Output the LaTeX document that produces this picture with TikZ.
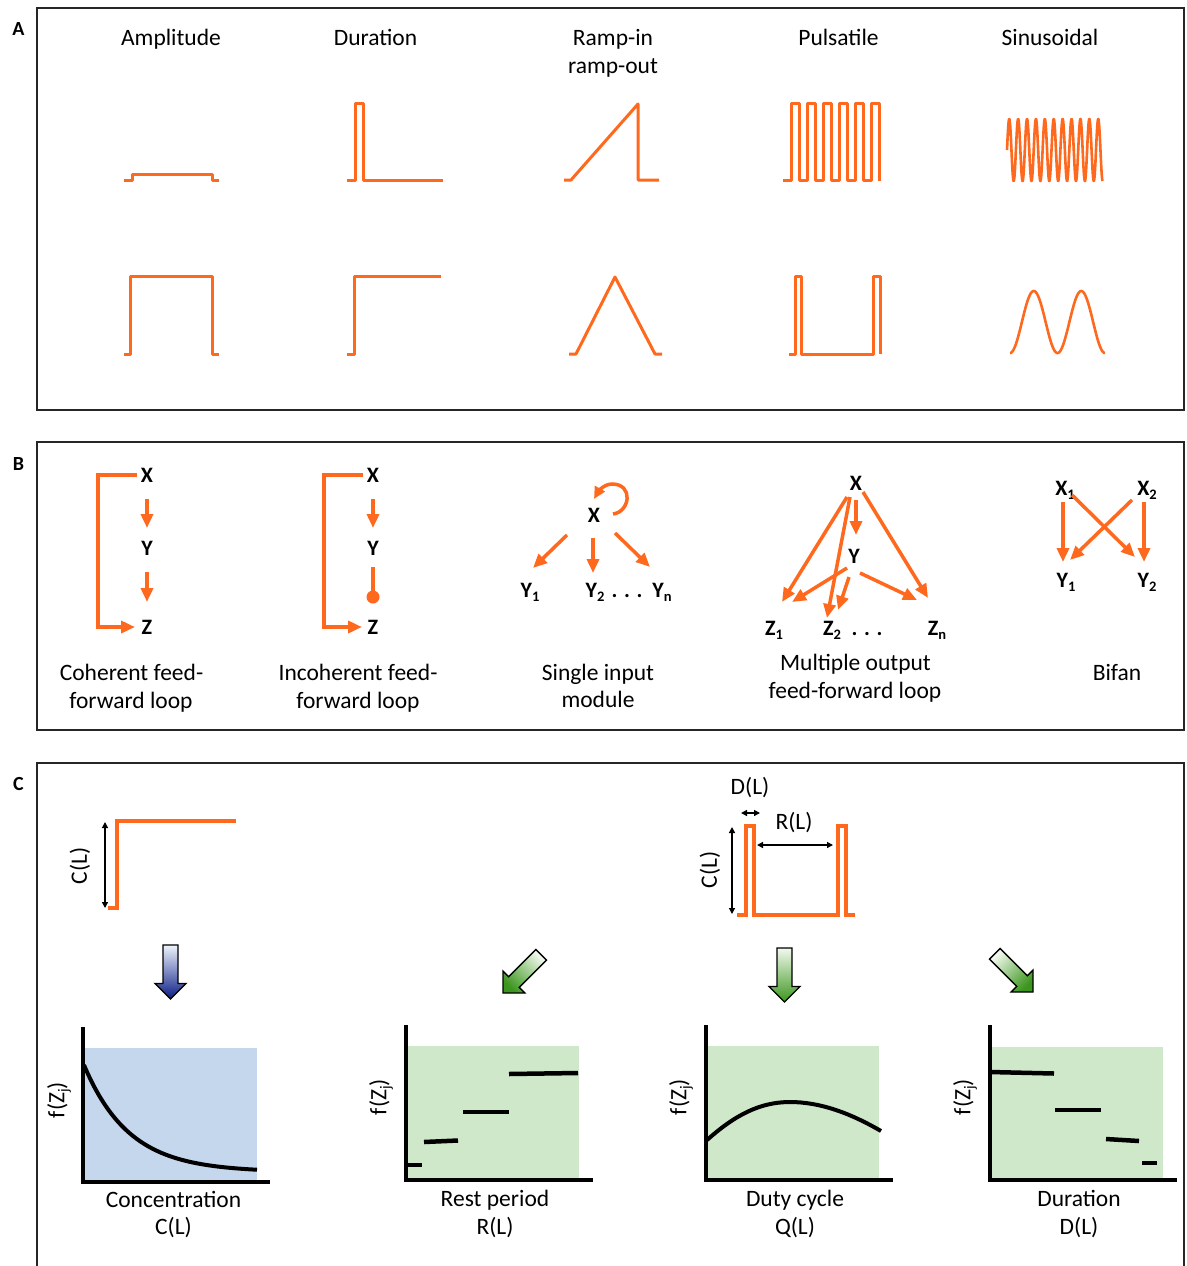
\documentclass[tikz,border=0pt]{standalone}
\usepackage{fontspec}
\setmainfont{Carlito}
\usetikzlibrary{arrows.meta,calc}
\definecolor{ora}{RGB}{255,105,30}
\definecolor{bgblue}{RGB}{197,215,236}
\definecolor{bggreen}{RGB}{208,232,202}
\definecolor{blueTop}{RGB}{238,244,251}
\definecolor{blueMid}{RGB}{105,145,205}
\definecolor{blueBot}{RGB}{10,28,135}
\definecolor{greenTop}{RGB}{242,249,238}
\definecolor{greenMid}{RGB}{160,210,140}
\definecolor{greenBot}{RGB}{60,150,30}
\newcommand{\sbs}[1]{\raisebox{-4.5pt}{\fontsize{14.5}{14.5}\selectfont #1}}
\newcommand{\fz}{f(Z\raisebox{-4pt}{\fontsize{15}{15}\selectfont j})}
\begin{document}
\begin{tikzpicture}[x=1pt,y=-1pt,
  wave/.style={draw=ora, line width=3pt, line join=round},
  oarr/.style={draw=ora, line width=3.5pt, -{Triangle[length=14pt,width=12pt]}},
  lab/.style={font=\fontsize{23.5}{28}\selectfont, inner sep=0pt, anchor=base},
  rlab/.style={font=\fontsize{23.5}{28}\selectfont, inner sep=0pt, rotate=90},
  gene/.style={font=\fontsize{22}{24}\selectfont\bfseries, inner sep=0pt, anchor=base},
  plab/.style={font=\fontsize{20}{22}\selectfont\bfseries, inner sep=0pt, anchor=base},
  frame/.style={draw=black!85, line width=2.6pt},
  axisline/.style={draw=black, line width=3.5pt, line join=miter},
  seg/.style={draw=black, line width=4.5pt},
  curve/.style={draw=black, line width=4pt},
  dimarr/.style={draw=black, line width=1.3pt, {Triangle[length=6pt,width=6pt]}-{Triangle[length=6pt,width=6pt]}},
  blockarr/.style={draw=black, line width=1.3pt, line join=miter},
]
\useasboundingbox (0,0) rectangle (1186,1266);
\fill[white] (0,0) rectangle (1186,1266);

% ---------------- frames ----------------
\draw[frame] (37,8) rectangle (1184,410);
\draw[frame] (37,442) rectangle (1184,730);
\draw[frame] (37,763) rectangle (1184,1280);
\node[plab] (pA) at (18.5,35) {A};
\node[plab] (pB) at (18.5,470) {B};
\node[plab] (pC) at (18.5,790) {C};

% ---------------- panel A ----------------
\node[lab] (tA1) at (171,45) {Amplitude};
\node[lab] (tA2) at (375.5,45) {Duration};
\node[lab] (tA3) at (613,45) {Ramp-in};
\node[lab] (tA3b) at (613,73) {ramp-out};
\node[lab] (tA4) at (838.5,45) {Pulsatile};
\node[lab] (tA5) at (1050,45) {Sinusoidal};

% top row
\draw[wave] (124,180) -- (132,180) -- (132,174) -- (212,174) -- (212,180) -- (219,180);
\draw[wave] (347,180) -- (355,180) -- (355,103) -- (363,103) -- (363,180) -- (443,180);
\draw[wave] (564,180) -- (571,180) -- (638,104) -- (638,180) -- (659,180);
\draw[wave] (783,180) -- (791,180)
  \foreach \k in {0,...,4} { -- ({791+16*\k},103) -- ({799+16*\k},103) -- ({799+16*\k},180) -- ({807+16*\k},180) }
  -- (871,103) -- (879,103) -- (879,181);
\draw[wave, line width=2.6pt] plot[domain=0:10.75, samples=700, smooth] ({1007+\x*8.9},{150-31*sin(\x*360)});

% bottom row
\draw[wave] (124,354) -- (130,354) -- (130,276) -- (212,276) -- (212,354) -- (219,354);
\draw[wave] (347,354) -- (354,354) -- (354,276) -- (441,276);
\draw[wave] (569,354) -- (576,354) -- (615,277) -- (655,354) -- (662,354);
\draw[wave] (789,354) -- (795,354) -- (795,276) -- (801,276) -- (801,354) -- (873,354) -- (873,276) -- (880,276) -- (880,354);
\draw[wave, line width=2.6pt] plot[domain=0:2, samples=200, smooth] ({1010+\x*47.5},{322+31*cos(\x*360)});

% ---------------- panel B ----------------
% coherent FFL
\node[gene] (cX) at (147,482) {X};
\node[gene] (cY) at (147,555) {Y};
\node[gene] (cZ) at (147,634) {Z};
\draw[oarr] ([shift={(0,17)}]cX.base) -- ([shift={(0,-27)}]cY.base);
\draw[oarr] ([shift={(0,17)}]cY.base) -- ([shift={(0,-32)}]cZ.base);
\draw[oarr, line join=miter] ([shift={(-10,-7)}]cX.base) -- ++(-39,0) |- ([shift={(-12,-7)}]cZ.base);
\node[lab] (lB1a) at (131.5,680) {Coherent feed-};
\node[lab] (lB1b) at (131,708) {forward loop};

% incoherent FFL
\node[gene] (iX) at (373,482) {X};
\node[gene] (iY) at (373,555) {Y};
\node[gene] (iZ) at (373,634) {Z};
\draw[oarr] ([shift={(0,17)}]iX.base) -- ([shift={(0,-27)}]iY.base);
\draw[draw=ora, line width=3.5pt] ([shift={(0,12)}]iY.base) -- ([shift={(0,-37)}]iZ.base) coordinate (iDot);
\fill[ora] (iDot) circle[radius=6.5];
\draw[oarr, line join=miter] ([shift={(-10,-7)}]iX.base) -- ++(-39,0) |- ([shift={(-11,-7)}]iZ.base);
\node[lab] (lB2a) at (358,680) {Incoherent feed-};
\node[lab] (lB2b) at (358,708) {forward loop};

% single input module
\node[gene] (sX) at (594,522) {X};
\node[gene] (sY1) at (530,597) {Y\sbs{1}};
\node[gene] (sY2) at (595,597) {Y\sbs{2}};
\node[gene] (sD) at (627,597) {. . .};
\node[gene] (sYn) at (662,597) {Y\sbs{n}};
\begin{scope}[shift={(sX.base)}]
  \draw[oarr, -{Triangle[length=12pt,width=11pt]}] (19,-8) .. controls (36,-10) and (40,-38) .. (18,-38) .. controls (10,-38) and (4,-30) .. (0,-23);
\end{scope}
\draw[oarr] ([shift={(-27,13)}]sX.base) -- ([shift={(3,-29)}]sY1.base);
\draw[oarr] ([shift={(-1,16)}]sX.base) -- ([shift={(-2,-24)}]sY2.base);
\draw[oarr] ([shift={(21,11)}]sX.base) -- ([shift={(-12,-30)}]sYn.base);
\node[lab] (lB3a) at (598,680) {Single input};
\node[lab] (lB3b) at (598,707) {module};

% multiple output FFL
\node[gene] (mX) at (856,490) {X};
\node[gene] (mY) at (854,563) {Y};
\node[gene] (mZ1) at (774,635) {Z\sbs{1}};
\node[gene] (mZ2) at (832,635) {Z\sbs{2}};
\node[gene] (mD) at (867,635) {. . .};
\node[gene] (mZn) at (937,635) {Z\sbs{n}};
\draw[oarr] ([shift={(-9,7)}]mX.base) -- ([shift={(8,-33)}]mZ1.base);
\draw[oarr] ([shift={(-6,7)}]mX.base) -- ([shift={(-5,-17)}]mZ2.base);
\draw[oarr] ([shift={(0,10)}]mX.base) -- ([shift={(2,-28)}]mY.base);
\draw[oarr] ([shift={(7,2)}]mX.base) -- ([shift={(-9,-37)}]mZn.base);
\draw[oarr] ([shift={(-7,5)}]mY.base) -- ([shift={(18,-33)}]mZ1.base);
\draw[oarr] ([shift={(-5,14)}]mY.base) -- ([shift={(6,-25)}]mZ2.base);
\draw[oarr] ([shift={(6,10)}]mY.base) -- ([shift={(-20,-35)}]mZn.base);
\node[lab] (lB4a) at (855.5,670) {Multiple output};
\node[lab] (lB4b) at (855,698) {feed-forward loop};

% bifan
\node[gene] (bX1) at (1065,495) {X\sbs{1}};
\node[gene] (bX2) at (1147,495) {X\sbs{2}};
\node[gene] (bY1) at (1066,587) {Y\sbs{1}};
\node[gene] (bY2) at (1147,587) {Y\sbs{2}};
\draw[oarr] ([shift={(-2,7)}]bX1.base) -- ([shift={(-3,-25)}]bY1.base);
\draw[oarr] ([shift={(-3,7)}]bX2.base) -- ([shift={(-3,-25)}]bY2.base);
\draw[oarr] ([shift={(7,0)}]bX1.base) -- ([shift={(-12,-30)}]bY2.base);
\draw[oarr] ([shift={(-15,5)}]bX2.base) -- ([shift={(4,-27)}]bY1.base);
\node[lab] (lB5) at (1117,680) {Bifan};

% ---------------- panel C ----------------
% step input
\draw[wave, line width=3.3pt, line join=miter] (108,908) -- (117,908) -- (117,821) -- (236,821);
\coordinate (cA1) at (105,822);
\coordinate (cA2) at (105,908);
\draw[dimarr] (cA1) -- (cA2);
\node[rlab] (lCL1) at (80,866) {C(L)};

% pulse input
\draw[wave, line width=3.3pt, line join=miter] (737,915) -- (746,915) -- (746,826) -- (754,826) -- (754,915) -- (838,915) -- (838,826) -- (846,826) -- (846,915) -- (855,915);
\coordinate (pc1) at (732,827);
\coordinate (pc2) at (732,914);
\coordinate (pd1) at (741,813);
\coordinate (pd2) at (760,813);
\coordinate (pr1) at (757,845);
\coordinate (pr2) at (833,845);
\draw[dimarr] (pc1) -- (pc2);
\draw[dimarr] (pd1) -- (pd2);
\draw[dimarr] (pr1) -- (pr2);
\node[rlab] (lCL2) at (710,870) {C(L)};
\node[lab, anchor=center] (lDL) at (750,788) {D(L)};
\node[lab, anchor=center] (lRL) at (794,823) {R(L)};

% block arrows
\shadedraw[blockarr, top color=blueTop, middle color=blueMid, bottom color=blueBot]
  (163,945) -- (178,945) -- (178,983.5) -- (186,983.5) -- (170.5,999) -- (155,983.5) -- (163,983.5) -- cycle;
\shadedraw[blockarr, top color=greenTop, middle color=greenMid, bottom color=greenBot]
  (777,948) -- (792,948) -- (792,986.5) -- (800,986.5) -- (784.5,1002) -- (769,986.5) -- (777,986.5) -- cycle;
\begin{scope}[shift={(503,993)}, rotate=-45]
  \shadedraw[blockarr, top color=greenTop, middle color=greenMid, bottom color=greenBot, shading angle=-45]
  (-7.5,-54) -- (7.5,-54) -- (7.5,-15.5) -- (15.5,-15.5) -- (0,0) -- (-15.5,-15.5) -- (-7.5,-15.5) -- cycle;
\end{scope}
\begin{scope}[shift={(1033,992)}, rotate=45]
  \shadedraw[blockarr, top color=greenTop, middle color=greenMid, bottom color=greenBot, shading angle=45]
  (-7.5,-54) -- (7.5,-54) -- (7.5,-15.5) -- (15.5,-15.5) -- (0,0) -- (-15.5,-15.5) -- (-7.5,-15.5) -- cycle;
\end{scope}

% plot 1: concentration
\fill[bgblue] (83,1048) rectangle (257,1182);
\draw[curve] plot[domain=84:257, samples=120, smooth] (\x,{1172-107*exp(-(\x-84)/45)});
\draw[axisline] (83,1027) -- (83,1182) -- (270,1182);
\node[rlab] (f1) at (59,1100) {\fz};
\node[lab] (x1a) at (173.5,1207) {Concentration};
\node[lab] (x1b) at (173.5,1234) {C(L)};

% plot 2: rest period
\fill[bggreen] (406,1046) rectangle (579,1180);
\draw[seg] (407,1165) -- (422,1165);
\draw[seg] (424,1142) -- (458,1140.5);
\draw[seg] (463,1112) -- (509,1112);
\draw[seg] (509,1074) -- (578,1073);
\draw[axisline] (406,1025) -- (406,1180) -- (593,1180);
\node[rlab] (f2) at (381,1097) {\fz};
\node[lab] (x2a) at (495,1206) {Rest period};
\node[lab] (x2b) at (495,1234) {R(L)};

% plot 3: duty cycle
\fill[bggreen] (706,1046) rectangle (879,1180);
\draw[curve] (707,1140) .. controls (735,1115) and (760,1102) .. (790,1102) .. controls (820,1102) and (850,1113) .. (881,1131);
\draw[axisline] (706,1025) -- (706,1180) -- (893,1180);
\node[rlab] (f3) at (681,1097) {\fz};
\node[lab] (x3a) at (795,1206) {Duty cycle};
\node[lab] (x3b) at (795,1234) {Q(L)};

% plot 4: duration
\fill[bggreen] (990,1047) rectangle (1163,1180);
\draw[seg] (990,1072) -- (1054,1073.5);
\draw[seg] (1055,1110) -- (1101,1110);
\draw[seg] (1106,1139) -- (1139,1141);
\draw[seg] (1142,1163) -- (1157,1163);
\draw[axisline] (990,1025) -- (990,1180) -- (1177,1180);
\node[rlab] (f4) at (965,1097) {\fz};
\node[lab] (x4a) at (1079,1206) {Duration};
\node[lab] (x4b) at (1079,1234) {D(L)};
\end{tikzpicture}
\end{document}
